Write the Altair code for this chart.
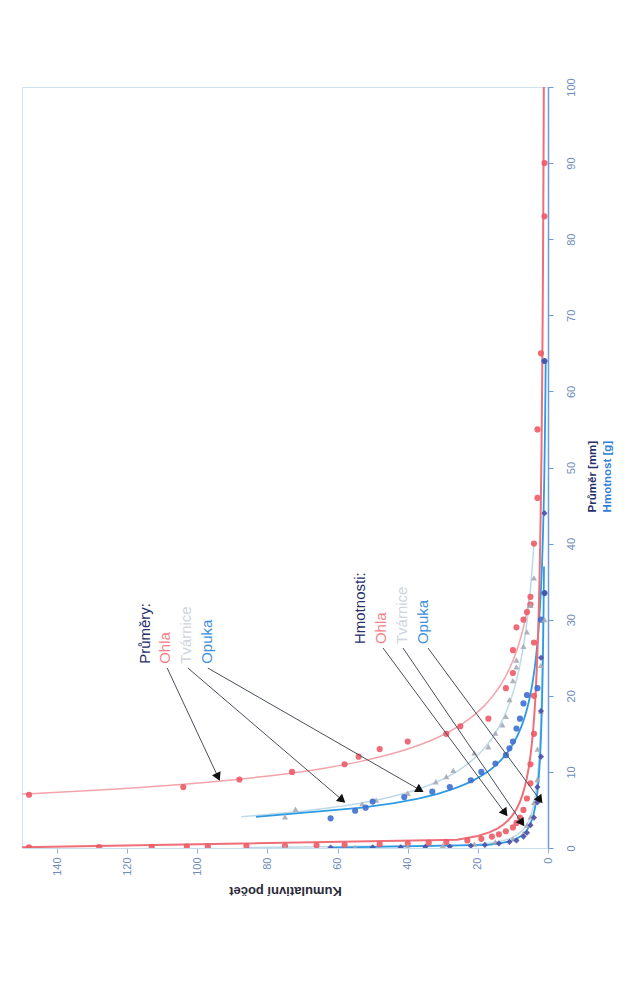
import math
import altair as alt
import pandas as pd

# ---------------- data (value = diameter [mm] / weight [g], count = cumulative count) -------------
# Průměry (diameters, mm)
p_ohla_v = [7, 8, 9, 10, 11, 12, 13, 14, 15, 16, 17, 21, 23, 26, 29, 30, 31, 32, 33]
p_ohla_c = [148, 104, 88, 73, 58, 54, 48, 40, 29, 25, 17, 12, 10, 10, 9, 7, 6, 5, 5]

p_tvar_v = [4.1, 5.1, 5.8, 6.3, 7.2, 8.7, 9.4, 10.2, 12.5, 13.3, 15.1, 16.2, 17.3, 19.5, 22.0, 23.8, 24.7, 26.5, 28.4, 31.9, 35.5]
p_tvar_c = [75, 72, 53, 49, 40, 32, 29, 27, 21, 17, 15, 13, 12, 11, 10, 9, 9, 7, 6, 5, 4]

p_opuka_v = [3.9, 4.9, 5.3, 6.1, 6.7, 7.4, 8.0, 8.9, 10.0, 11.1, 12.2, 13.1, 14.0, 15.7, 17.0, 19.0, 20.1, 21.0, 30.0, 33.5, 64.0]
p_opuka_c = [62, 55, 52, 50, 41, 33, 28, 22, 19, 15, 12, 11, 10, 9, 8, 7, 6, 3, 2, 1, 1]

# Hmotnosti (weights, g)
h_ohla_v = [0.1, 0.12, 0.15, 0.18, 0.2, 0.25, 0.3, 0.35, 0.4, 0.5, 0.6, 0.7, 0.8, 1.0, 1.2, 1.5, 1.8,
            2.2, 2.7, 3.3, 4.0, 5.0, 6.5, 8.5, 11, 15, 20, 27, 40, 46, 55, 65, 83, 90]
h_ohla_c = [148, 128, 113, 103, 97, 86, 75, 66, 58, 48, 40, 34, 29, 23, 19, 16, 14,
            12, 10, 9, 8, 7, 6, 5, 5, 4, 4, 4, 4, 3, 3, 2, 1, 1]

h_tvar_v = [0.05, 0.1, 0.2, 0.3, 0.5, 0.8, 1.2, 1.9, 3.0, 4.1, 6.0, 9.0, 13, 18, 24, 30]
h_tvar_c = [75, 55, 40, 30, 21, 15, 10, 7, 6, 5, 4, 3, 3, 2, 2, 1]

h_opuka_v = [0.05, 0.08, 0.1, 0.15, 0.2, 0.3, 0.4, 0.6, 0.8, 1.0, 1.5, 2.0, 3.0, 4.0, 6.0, 8.0, 12, 18, 25, 33.5, 44, 64]
h_opuka_c = [62, 50, 42, 35, 28, 22, 18, 14, 11, 9, 7, 6, 5, 4, 3, 3, 2, 2, 2, 1, 1, 1]

series_names = ["P Ohla", "P Tvárnice", "P Opuka", "H Ohla", "H Tvárnice", "H Opuka"]
series_point_colors = ["#ee5a66", "#a9abb5", "#3e6fd1", "#ee5a66", "#a9abb5", "#4a4fa5"]
series_line_colors = ["#f5a3ab", "#bcd9ea", "#2d9be3", "#ee6f78", "#bcd9ea", "#2d9be3"]
series_shapes = ["circle", "triangle-up", "circle", "circle", "triangle-up", "diamond"]
series_extents = [[6.6, 33], [4.1, 40], [4.1, 64], [0.08, 100], [0.05, 30], [0.05, 37]]
series_line_widths = [1.5, 1.5, 1.8, 2.0, 1.5, 1.8]

# annotation labels (count position, value position, text, colour)
label_c = [114.9, 109.2, 103.2, 97.2, 53.6, 47.6, 41.6, 35.6]
label_v = [24.2, 24.2, 24.2, 24.2, 26.8, 26.8, 26.8, 26.8]
label_text = ["Průměry:", "Ohla", "Tvárnice", "Opuka", "Hmotnosti:", "Ohla", "Tvárnice", "Opuka"]
label_color = ["#27306a", "#f47f86", "#cfd3dc", "#3d8fe0", "#27306a", "#f47f86", "#cfd3dc", "#3d8fe0"]

# arrows: start (count, value) -> end (count, value)
arrow_c1 = [108.6, 102.7, 97.0, 47.05, 41.35, 34.22]
arrow_v1 = [23.65, 23.65, 23.65, 26.28, 26.28, 26.28]
arrow_c2 = [94.1, 58.7, 36.5, 12.26, 7.41, 2.28]
arrow_v2 = [9.33, 6.31, 7.62, 4.60, 3.29, 6.31]

# right-hand axis titles
rtitle_text = ["Průměr [mm]", "Hmotnost [g]"]
rtitle_color = ["#27306a", "#2f7fd8"]
rtitle_c = [-12.8, -17.1]
rtitle_v = [44.1, 44.1]

# ---------------- chart ----------------
W, H = 526, 761
C_MAX, V_MAX = 150, 100
FONT = "Liberation Sans"

vals = [p_ohla_v, p_tvar_v, p_opuka_v, h_ohla_v, h_tvar_v, h_opuka_v]
cnts = [p_ohla_c, p_tvar_c, p_opuka_c, h_ohla_c, h_tvar_c, h_opuka_c]

x_scale = alt.Scale(domain=[0, C_MAX], reverse=True, nice=False, zero=False)
y_scale = alt.Scale(domain=[0, V_MAX], nice=False, zero=False)

x_axis = alt.Axis(values=list(range(0, 141, 20)), labelAngle=270, labelAlign="right",
                  labelBaseline="middle", labelPadding=4, tickSize=5, tickColor="#8ab4dc",
                  domainColor="#c9dff0", labelColor="#6f8cbc", labelFont=FONT, labelFontSize=11,
                  title="Kumulativní počet", titleAngle=180, titleBaseline="bottom",
                  titleFont=FONT, titleFontSize=13, titleFontWeight="bold", titleColor="#2b2b3a",
                  titlePadding=8, grid=False)
y_axis = alt.Axis(orient="right", values=list(range(0, 101, 10)), labelAngle=270, labelAlign="center",
                  labelBaseline="top", labelPadding=12, tickSize=5, tickColor="#6f9bd6",
                  domainColor="#6f9bd6", domainWidth=1.5, labelColor="#6f8cbc", labelFont=FONT,
                  labelFontSize=11, title=None, grid=False)

X = alt.X("c:Q", scale=x_scale, axis=x_axis)
Y = alt.Y("v:Q", scale=y_scale, axis=y_axis)

layers = []
for name, vv, cc, lc, ext, lw in zip(series_names, vals, cnts, series_line_colors, series_extents,
                                      series_line_widths):
    df = pd.DataFrame({"series": name, "v": vv, "c": cc})
    line = (alt.Chart(df)
            .transform_regression("v", "c", method="pow", extent=ext)
            .transform_calculate(v="datum.v", c="datum.c")
            .mark_line(color=lc, strokeWidth=lw, clip=True)
            .encode(x=X, y=Y, order="v:Q"))
    layers.append(line)

for name, vv, cc, pc, sh in zip(series_names, vals, cnts, series_point_colors, series_shapes):
    df = pd.DataFrame({"series": name, "v": vv, "c": cc})
    pts = (alt.Chart(df)
           .mark_point(shape=sh, filled=True, color=pc, size=38, opacity=0.9, clip=True)
           .encode(x=X, y=Y))
    layers.append(pts)

# arrows
sx, sy = W / C_MAX, H / V_MAX
angles = []
for c1, v1, c2, v2 in zip(arrow_c1, arrow_v1, arrow_c2, arrow_v2):
    dx = -(c2 - c1) * sx
    dy = -(v2 - v1) * sy
    angles.append(math.degrees(math.atan2(dx, -dy)) % 360)
arr = pd.DataFrame({"c": arrow_c1, "v": arrow_v1, "c2": arrow_c2, "v2": arrow_v2, "ang": angles})
layers.append(alt.Chart(arr).mark_rule(color="#4a4f5a", strokeWidth=1)
              .encode(x=X, y=Y, x2="c2:Q", y2="v2:Q"))
heads = pd.DataFrame({"c": arrow_c2, "v": arrow_v2, "ang": angles})
layers.append(alt.Chart(heads).mark_point(shape="triangle-up", filled=True, color="#111111",
                                          size=90, opacity=1)
              .encode(x=X, y=Y, angle=alt.Angle("ang:Q", scale=None)))

labels = pd.DataFrame({"c": label_c, "v": label_v, "t": label_text, "col": label_color})
layers.append(alt.Chart(labels).mark_text(angle=270, align="left", baseline="middle", font=FONT,
                                          fontSize=15)
              .encode(x=X, y=Y, text="t:N", color=alt.Color("col:N", scale=None)))

rt = pd.DataFrame({"c": rtitle_c, "v": rtitle_v, "t": rtitle_text, "col": rtitle_color})
layers.append(alt.Chart(rt).mark_text(angle=270, align="left", baseline="middle", font=FONT,
                                      fontSize=11.5, fontWeight="bold")
              .encode(x=X, y=Y, text="t:N", color=alt.Color("col:N", scale=None)))

chart = (alt.layer(*layers)
         .properties(width=W, height=H, autosize=alt.AutoSizeParams(type="none"),
                     padding={"left": 14, "top": 79, "right": 70, "bottom": 130},
                     background="white")
         .configure_view(stroke="#cfe3f0", strokeWidth=1))

chart.save("out.html", embed_options={"renderer": "svg", "actions": False})
